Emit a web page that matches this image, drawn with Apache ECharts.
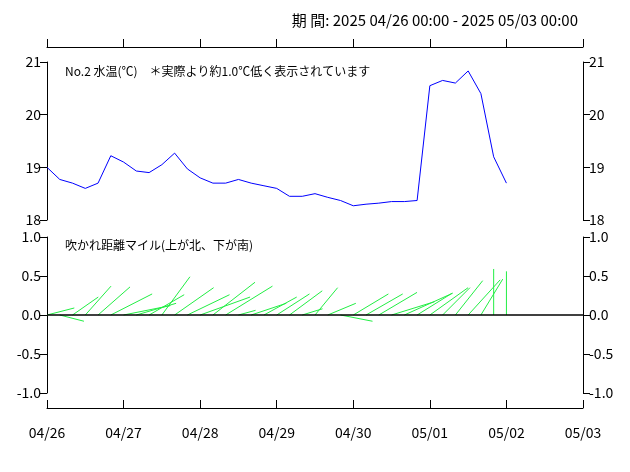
<!DOCTYPE html>
<html><head><meta charset="utf-8">
<script src="https://cdn.jsdelivr.net/npm/echarts@6/dist/echarts.min.js"></script>
<style>html,body{margin:0;padding:0;background:#fff}#c{width:630px;height:472px}</style>
</head><body><div id="c"></div>
<script>
var dayLabels = ["04/26","04/27","04/28","04/29","04/30","05/01","05/02","05/03"];
var temp = [19.0,18.77,18.7,18.6,18.7,19.22,19.1,18.93,18.9,19.05,19.27,18.97,18.8,18.7,18.7,18.77,18.7,18.65,18.6,18.45,18.45,18.5,18.43,18.37,18.27,18.3,18.32,18.35,18.35,18.37,20.55,20.65,20.6,20.83,20.4,19.2,18.7];
var windU = [0.35,0.31,0.33,0.33,0.41,0.53,0.60,0.51,0.45,0.36,0.50,0.54,0.64,0.54,0.60,0.22,0.45,0.42,0.42,0.42,0.26,0.29,0.36,0.41,0.45,0.47,0.49,0.55,0.62,0.45,0.49,0.35,0.35,0.41,0.28,0.0,0.0];
var windV = [0.09,-0.08,0.23,0.37,0.36,0.27,0.12,0.15,0.26,0.49,0.35,0.26,0.23,0.42,0.37,0.06,0.15,0.23,0.27,0.31,0.08,0.35,0.15,-0.08,0.27,0.27,0.29,0.17,0.28,0.28,0.35,0.35,0.44,0.45,0.46,0.59,0.56];
var STEP = 1/6;
var tempData = temp.map(function(v,i){return [i*STEP, v];});
var windData = windU.map(function(u,i){return [i*STEP, u, windV[i]];});
var FONT = '"Noto Sans CJK JP", sans-serif';
function xAx(grid, pos, offset, show){
  return {type:'value', gridIndex:grid, min:0, max:7, interval:1, position:pos, offset:offset,
    axisLine:{show:true, onZero:false, lineStyle:{color:'#000',width:1}}, axisTick:{show:true,inside:pos==='bottom',length:8,lineStyle:{color:'#000'}},
    axisLabel:{show:show, margin:18, fontFamily:FONT, fontSize:14, color:'#000', formatter:function(v){return dayLabels[Math.round(v)];}},
    splitLine:{show:false}};
}
function yAx(grid, pos, min, max, iv, fmt){
  return {type:'value', gridIndex:grid, position:pos, min:min, max:max, interval:iv,
    axisLine:{show:true, onZero:false, lineStyle:{color:'#000',width:1}}, axisTick:{show:true,length:7,lineStyle:{color:'#000'}},
    axisLabel:{fontFamily:FONT, fontSize:14, color:'#000', margin:6, formatter:fmt}, splitLine:{show:false}};
}
var chart = echarts.init(document.getElementById('c'));
chart.setOption({
  animation:false, backgroundColor:'#fff',
  title:[
    {text:'期 間: 2025 04/26 00:00 - 2025 05/03 00:00', right:47, top:8, textStyle:{fontFamily:FONT,fontSize:15,fontWeight:'normal',color:'#000'}},
    {text:'No.2 水温(℃)　＊実際より約1.0℃低く表示されています', left:60, top:60, textStyle:{fontFamily:FONT,fontSize:12,fontWeight:'normal',color:'#000'}},
    {text:'吹かれ距離マイル(上が北、下が南)', left:60, top:234, textStyle:{fontFamily:FONT,fontSize:12,fontWeight:'normal',color:'#000'}}
  ],
  grid:[{left:47,right:47,top:62,height:158},{left:47,right:47,top:237,height:156}],
  xAxis:[xAx(0,'top',15,false), xAx(1,'bottom',15,true)],
  yAxis:[yAx(0,'left',18,21,1,function(v){return v;}), yAx(0,'right',18,21,1,function(v){return v;}),
         yAx(1,'left',-1,1,0.5,function(v){return v.toFixed(1);}), yAx(1,'right',-1,1,0.5,function(v){return v.toFixed(1);})],
  series:[
    {type:'line', xAxisIndex:0, yAxisIndex:0, data:tempData, showSymbol:false, lineStyle:{color:'#0000ff',width:1}, itemStyle:{color:'#0000ff'}},
    {type:'custom', xAxisIndex:1, yAxisIndex:2, data:windData,
      renderItem:function(params, api){
        var t=api.value(0), u=api.value(1), v=api.value(2);
        var p0=api.coord([t,0]), p1=api.coord([t,v]), pu=api.coord([t,1]);
        var k=p0[1]-pu[1];
        return {type:'line', shape:{x1:p0[0],y1:p0[1],x2:p0[0]+u*k,y2:p1[1]}, style:{stroke:'#22ee44',lineWidth:1}};
      },
      markLine:{silent:true, symbol:'none', label:{show:false}, lineStyle:{color:'#000',width:1.5,type:'solid'}, data:[{yAxis:0}]}
    }
  ]
});
</script></body></html>
